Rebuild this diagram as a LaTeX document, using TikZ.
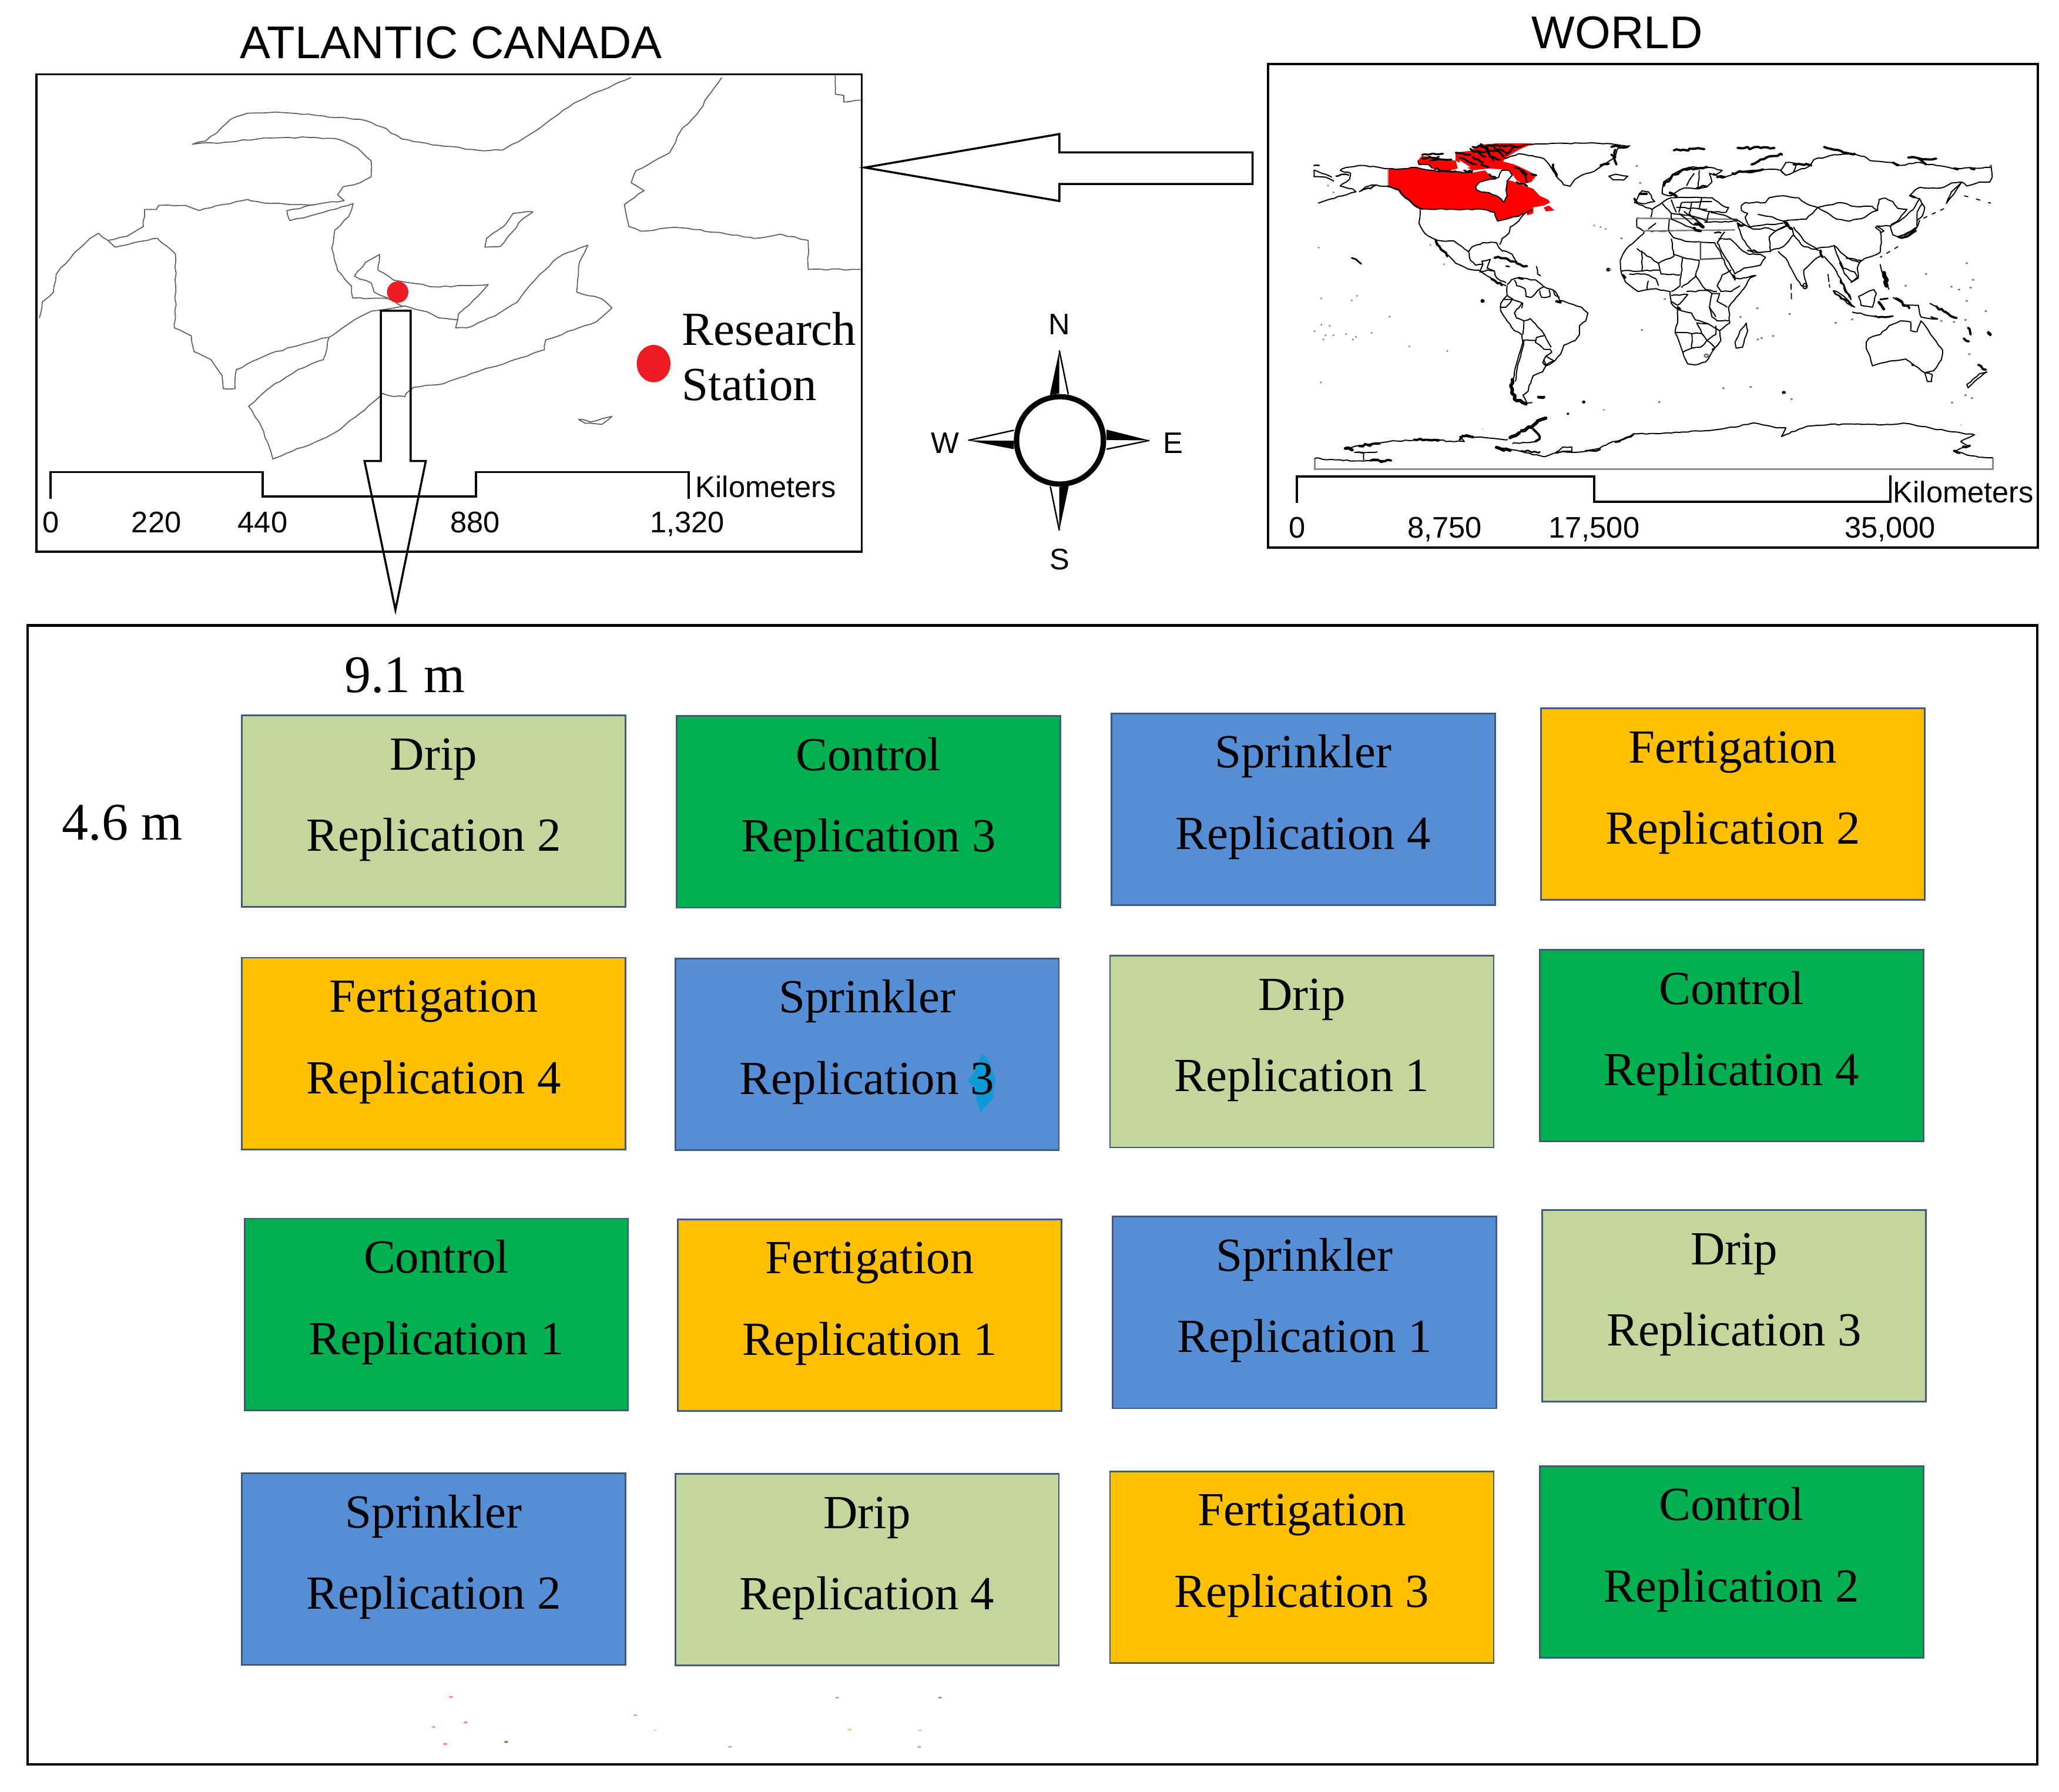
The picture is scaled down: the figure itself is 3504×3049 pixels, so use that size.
\documentclass[tikz,border=0pt]{standalone}
\usepackage{fontspec}
\usetikzlibrary{decorations.pathmorphing}
\setmainfont{Liberation Serif}
\newfontfamily\arl{Liberation Sans}
\definecolor{dripc}{HTML}{C4D69B}
\definecolor{ctrlc}{HTML}{00B050}
\definecolor{sprc}{HTML}{558ED5}
\definecolor{fertc}{HTML}{FFC000}
\definecolor{edgec}{HTML}{3F5C7E}
\definecolor{redmap}{HTML}{FF0000}
\definecolor{reddot}{HTML}{ED1C24}
\definecolor{smudge}{HTML}{0E9AD6}
\newcommand{\twolines}[2]{\begin{tabular}{@{}c@{}}#1\\#2\\[16.4pt]\end{tabular}}
\tikzset{
  plotbox/.style={draw=edgec,line width=.8pt,minimum width=6.525cm,minimum height=3.26cm,inner sep=-6pt,text=black,font=\fontsize{23}{39.4}\selectfont},
  sertext/.style={inner sep=0pt,font=\fontsize{23}{27}\selectfont},
  dimtext/.style={inner sep=0pt,font=\fontsize{25.6}{30}\selectfont,anchor=base},
  santext/.style={inner sep=0pt,font=\arl\fontsize{14.4}{16}\selectfont,anchor=base},
  titletext/.style={inner sep=0pt,font=\arl\fontsize{22.2}{26}\selectfont,anchor=base},
  frameline/.style={draw=black,line width=1.1pt},
  scalebar/.style={draw=black,line width=1.1pt,line join=miter},
  bigarrow/.style={draw=black,line width=1pt,line join=miter},
  coast/.style={draw=black!62,line width=.5pt,line join=round,decorate,decoration={random steps,segment length=3pt,amplitude=.35pt}},
  wl/.style={draw=black,line width=.55pt,line join=round,decorate,decoration={random steps,segment length=2pt,amplitude=.3pt}},
  wt/.style={draw=black,line width=1.1pt,line join=round,line cap=round,decorate,decoration={random steps,segment length=1.6pt,amplitude=.7pt}},
}
\newcommand{\specks}[2]{\foreach \px/\py in {#2} \fill[black!50] (\px,\py) circle [radius=#1];}
\begin{document}
\begin{tikzpicture}[x=0.01cm,y=-0.01cm]
\pgfmathsetseed{7}
\useasboundingbox[fill=white] (0,0) rectangle (3504,3049);

% ---------- Atlantic Canada map
\begin{scope}[shift={(0,0)},x=0.009566cm,y=-0.00676cm]
\node[titletext] (atitle) at (802,147) {ATLANTIC CANADA};
\draw[frameline] (65,187) rectangle (1532,1388);
\draw[coast] plot coordinates {(1122,195) (1060,232) (1020,260) (980,300) (940,340) (893,378) (850,378) (790,368) (715,350) (680,320) (640,300) (560,290) (500,283) (440,285) (410,300) (385,335) (365,355) (342,363) (400,358) (470,347) (550,346) (600,350) (635,372) (660,405) (660,445) (640,460) (610,470) (600,490) (612,505) (560,515) (480,512) (440,502) (395,515) (355,530) (330,517) (282,517) (278,527) (257,527) (255,570) (225,595) (192,605) (175,587) (160,600) (130,640) (100,690) (95,735) (75,760) (70,800)};
\draw[coast] plot coordinates {(192,605) (205,622) (240,610) (280,600) (312,640) (312,800) (310,825) (340,845) (345,885) (375,905) (395,945) (397,978) (418,978) (420,930) (480,890) (540,865) (590,845) (630,805) (665,782) (700,775) (720,770) (760,785) (780,800) (815,805)};
\draw[coast] plot coordinates {(628,512) (560,540) (515,555) (510,530) (560,515)};
\draw[coast] plot coordinates {(628,512) (620,545) (595,580) (590,625) (600,680) (625,720) (627,750) (690,752) (715,770)};
\draw[coast] plot coordinates {(675,640) (650,660) (630,695) (660,712) (665,735) (690,750)};
\draw[coast] plot coordinates {(675,640) (672,680) (700,705) (730,712) (770,722) (868,716) (850,745) (815,790) (810,825) (830,825) (880,795) (920,760) (935,730) (960,690) (990,650) (1010,635) (1045,617) (1030,660) (1025,735) (1070,752) (1088,775) (1060,810) (1020,830) (970,855) (968,880) (905,910) (850,935) (790,965) (735,975) (722,990) (720,998) (700,998) (680,990) (640,1040) (600,1085) (550,1120) (510,1140) (485,1155) (480,1130) (465,1075) (442,1022) (480,975) (530,930) (575,905) (585,850)};
\draw[coast] plot coordinates {(948,533) (912,537) (895,570) (865,600) (862,622) (890,620) (910,585) (930,550) (948,533)};
\draw[coast] plot coordinates {(1283,195) (1260,240) (1245,275) (1210,330) (1190,385) (1130,430) (1122,460) (1145,480) (1110,515) (1118,570) (1140,582) (1200,572) (1280,585) (1340,600) (1390,590) (1437,605) (1437,678) (1530,678)};
\draw[coast] plot coordinates {(1485,190) (1485,237) (1500,240) (1500,257) (1530,252)};
\draw[coast] plot coordinates {(1028,1055) (1050,1062) (1088,1048) (1070,1068) (1040,1065) (1028,1055)};
\fill[reddot] (707,735) ellipse [x radius=19,y radius=27];
\fill[reddot] (1162,915) ellipse [x radius=30,y radius=47];
\node[sertext,anchor=base west] (research) at (1212,868) {Research};
\node[sertext,anchor=base west] (station) at (1212,1008) {Station};
\draw[scalebar] (90,1255) -- (90,1188) -- (467,1188) -- (467,1250) -- (846,1250) -- (846,1188) -- (1224,1188) -- (1224,1255);
\node[santext,anchor=base west] (akm) at (1236,1252) {Kilometers};
\node[santext] (a0) at (90,1340) {0};
\node[santext] (a220) at (278,1340) {220};
\node[santext] (a440) at (467,1340) {440};
\node[santext] (a880) at (845,1340) {880};
\node[santext] (a1320) at (1222,1340) {1,320};
\draw[bigarrow] (677,782) -- (730,782) -- (730,1160) -- (757,1160) -- (703,1535) -- (648,1160) -- (677,1160) -- cycle;
\end{scope}

% ---------- left-pointing arrow
\begin{scope}[x=0.022347cm,y=-0.022347cm]
\draw[bigarrow] (658,127.5) -- (806,102) -- (806,116) -- (953,116) -- (953,140) -- (806,140) -- (806,153) -- cycle;
\end{scope}

% ---------- World frame and scale
\begin{scope}[shift={(2130,0)},x=0.008763cm,y=-0.006122cm]
\node[titletext] (wtitle) at (710,135) {WORLD};
\draw[frameline] (32,178) rectangle (1527,1522);
\draw[scalebar] (88,1398) -- (88,1325) -- (665,1325) -- (665,1395) -- (1240,1395) -- (1240,1322);
\node[santext,anchor=base west] (wkm) at (1245,1398) {Kilometers};
\node[santext] (w0) at (88,1495) {0};
\node[santext] (w8) at (375,1495) {8,750};
\node[santext] (w17) at (665,1495) {17,500};
\node[santext] (w35) at (1240,1495) {35,000};
\end{scope}

% ---------- World: Americas
\begin{scope}[shift={(2220,230)},x=0.003571cm,y=-0.003333cm]
\fill[redmap] plot coordinates {(397,172) (470,172) (530,165) (620,182) (700,188) (800,192) (860,180) (890,215) (935,225) (990,235) (1040,255) (1090,275) (1120,310) (1160,330) (1170,345) (1140,360) (1085,370) (1050,400) (1020,415) (975,425) (920,440) (905,395) (850,380) (560,378) (540,370) (510,345) (480,320) (450,280) (397,262)} -- cycle;
\fill[redmap] plot coordinates {(540,130) (560,105) (640,120) (720,130) (730,170) (680,185) (610,170) (590,150) (545,150)} -- cycle;
\fill[redmap] plot coordinates {(720,90) (790,80) (830,50) (920,42) (1090,42) (1020,75) (960,115) (945,135) (1000,150) (1060,180) (1105,205) (1080,240) (1040,250) (1010,230) (990,200) (940,175) (880,170) (800,180) (750,150) (720,130)} -- cycle;
\fill[redmap] plot coordinates {(1140,370) (1165,360) (1190,385) (1150,390)} -- cycle;
\fill[redmap] plot coordinates {(1060,375) (1090,370) (1090,400) (1060,410)} -- cycle;
\filldraw[fill=white,wl] plot coordinates {(815,265) (835,240) (875,228) (905,225) (925,215) (940,180) (975,180) (990,205) (965,235) (960,280) (965,310) (950,345) (935,325) (915,310) (880,295) (840,290) (820,280)} -- cycle;
\fill[white] plot coordinates {(740,130) (770,150) (790,165) (760,165) (735,150)} -- cycle;
\fill[white] plot coordinates {(1090,380) (1130,365) (1110,390)} -- cycle;
\draw[wl] plot coordinates {(397,172) (470,172) (530,165) (620,182) (700,188) (800,192)};
\draw[wl] plot coordinates {(560,378) (850,380) (905,395) (920,440) (975,425) (1020,415) (1050,400)};
\draw[black!30,line width=.4pt] (397,172) -- (397,262);
\draw[wl,line width=.8pt] plot coordinates {(397,262) (450,280) (480,320) (510,345) (540,370) (560,378)};
\foreach \a/\b/\c/\d in {560/100/660/95,600/130/700/125,720/90/790/100,740/115/820/150,800/60/960/55,820/80/930/85,860/60/900/130,900/50/950/110,950/60/1040/55,800/110/850/140,880/110/930/125,620/175/720/185,760/180/800/185,880/200/910/215,1000/165/1060/200,1080/200/1105/205,1010/240/1060/260,840/45/880/100,930/70/960/90,790/70/860/110,1000/60/960/100,840/150/880/165,1040/180/1060/240,560/120/640/110}
  \draw[wt,line width=.9pt] (\a,\b) -- (\c,\d);
\draw[wl] plot coordinates {(540,130) (545,150) (590,150) (610,170)};
% Greenland
\draw[wl] plot coordinates {(1040,50) (1100,45) (1250,42) (1400,42) (1550,55) (1490,70) (1480,110) (1420,155) (1380,185) (1320,205) (1290,225) (1265,262) (1235,255) (1195,200) (1165,150) (1140,120) (1085,105) (1020,95) (950,120)};
\draw[wt] (1480,75) -- (1480,115);
\draw[wt] (1410,155) -- (1450,145);
\draw[wt] (1185,150) -- (1200,210);
\filldraw[fill=white,wl] plot coordinates {(1450,210) (1480,200) (1540,210) (1520,230) (1470,228)} -- cycle;
% Alaska
\draw[wl] plot coordinates {(397,172) (330,160) (260,155) (200,165) (170,180) (220,195) (215,225) (170,260) (230,275) (245,290) (200,305) (130,325) (65,348)};
\draw[wl] plot coordinates {(397,262) (320,255) (290,265) (260,290)};
\draw[wl] plot coordinates {(45,178) (45,212) (100,215) (140,235)};
\draw[wl] plot coordinates {(45,178) (100,200) (130,215)};
\draw[wt,line width=.7pt] (45,155) -- (70,155);
\draw[wt,line width=.7pt] (150,210) -- (210,205);
\draw[wt,line width=.7pt] (270,285) -- (340,255);
% USA and Mexico
\draw[wl] plot coordinates {(550,380) (545,450) (575,505) (615,530) (650,540) (710,540) (750,570) (780,595)};
\draw[wl] plot coordinates {(780,600) (800,570) (850,550) (915,550) (930,580) (945,595)};
\draw[wl] plot coordinates {(930,560) (940,530) (975,500) (980,470) (1020,440) (1050,400) (1085,380)};
\draw[wl] plot coordinates {(620,530) (650,580) (690,620) (720,655) (780,685) (830,690) (870,720) (905,745) (960,770)};
\draw[wl] plot coordinates {(785,600) (790,640) (815,665) (850,660) (845,645) (885,635) (870,680) (905,695) (915,730) (960,755)};
\draw[wl] plot coordinates {(850,660) (835,700) (870,690) (905,695)};
\draw[wt] (625,540) -- (650,585) -- (680,620);
\draw[wl] (945,590) -- (990,610) -- (1005,640);
\draw[wt] (905,628) -- (960,630) -- (1010,655) -- (1060,670);
\draw[wt,line width=.7pt] (960,670) -- (975,672);
\draw[wl] (1105,670) -- (1110,710) -- (1125,720);
\draw[wt] (890,735) -- (940,768);
% South America
\draw[wl] plot coordinates {(965,765) (985,740) (1020,730) (1100,740) (1140,775) (1195,800) (1215,845) (1260,860) (1320,880) (1350,910) (1340,950) (1310,975) (1310,1020) (1290,1050) (1235,1075) (1220,1120) (1185,1160) (1150,1180) (1135,1210) (1090,1230) (1070,1280) (1065,1310) (1040,1330) (1060,1370) (1085,1368)};
\draw[wl] plot coordinates {(965,770) (965,820) (935,860) (935,900) (965,950) (1000,1000) (1035,1020) (1040,1060) (1020,1130) (1000,1210) (990,1280)};
\draw[wl] plot coordinates {(1045,1050) (1030,1130) (1012,1200) (1005,1260)};
\draw[wl] plot coordinates {(1000,740) (1010,770) (1050,785) (1055,825) (1080,830) (1110,795) (1140,775)};
\draw[wl] plot coordinates {(1120,795) (1130,830) (1170,825) (1165,790)};
\draw[wl] plot coordinates {(1185,790) (1195,820) (1215,830)};
\draw[wl] plot coordinates {(965,820) (1000,845) (1040,860) (1035,885)};
\draw[wl] plot coordinates {(945,840) (990,840) (960,880) (935,880)};
\draw[wl] plot coordinates {(1035,860) (1000,910) (1010,935) (1045,950) (1075,938) (1100,965) (1130,1000) (1145,1025) (1105,1035) (1100,1060) (1140,1095) (1170,1095) (1178,1110) (1150,1130) (1135,1165) (1150,1180)};
\draw[wl] plot coordinates {(1045,950) (1040,1020)};
\draw[wl] plot coordinates {(1040,1050) (1100,1050)};
\draw[wl] plot coordinates {(1145,1025) (1175,1085)};
\draw[wl] plot coordinates {(1150,1130) (1190,1155) (1150,1175) (1140,1150)};
\draw[wt,line width=1.6pt] plot coordinates {(990,1250) (987,1320) (1010,1358) (1055,1375)};
\draw[wt,line width=1.4pt] (1115,1340) -- (1140,1340);
\draw[wt,line width=1.2pt] (1200,850) -- (1220,855);
\draw[wt] (1020,730) -- (1040,735);
\draw[wt,line width=.8pt] (225,628) -- (245,635) -- (270,658);
\fill (848,848) circle [radius=10];
\fill (1447,688) circle [radius=10];
\fill (1330,1365) circle [radius=8];
\fill (1255,1425) circle [radius=6];
\specks{5}{600/562,68/575,665/660,80/835,250/822,225/845,405/928,120/975,80/970,48/1003,100/1023,138/1023,198/1018,320/1012,230/1045,245/1032,90/1045,500/1080,680/1104,78/1265,1380/462,1410/470,1435/480,1510/528,1425/1405,112/258,138/293}
\end{scope}

% ---------- World: Old World
\begin{scope}[shift={(2740,230)},x=0.004337cm,y=-0.003333cm]
% Africa
\draw[wl] plot coordinates {(130,505) (100,540) (65,580) (40,640) (45,710) (60,750) (110,800) (180,785) (235,800) (240,860) (265,890) (265,960) (255,1010) (285,1110) (305,1170) (330,1175) (375,1160) (410,1090) (435,1050) (430,1000) (470,960) (465,880) (525,785) (550,730) (572,718) (510,735) (485,730) (460,680) (430,590) (410,550) (350,545) (310,545) (250,525) (230,490) (135,490) (130,505)};
\foreach \p in {{(105,580) (190,655) (250,620) (240,530)},{(125,590) (125,695) (45,695)},{(250,610) (285,625) (350,640)},{(285,625) (280,700) (275,770) (240,800)},{(350,640) (335,720) (375,790) (420,800)},{(190,655) (200,710) (275,715)},{(125,695) (195,690)},{(75,710) (135,710) (180,735) (190,770)},{(150,745) (145,790)},{(340,720) (280,780)},{(300,800) (385,795) (400,810) (390,880) (415,930)},{(440,715) (420,770) (435,800) (475,800) (510,770)},{(440,715) (475,690)},{(400,810) (430,810) (420,850) (460,880)},{(390,880) (400,930) (420,950) (465,950)},{(265,890) (300,905) (320,910) (335,945) (385,965)},{(255,1010) (360,1015) (340,960) (385,965) (410,985) (430,1000)},{(360,1015) (380,1050) (415,1020) (415,975)},{(320,1015) (320,1090) (355,1085) (380,1050) (410,1085) (410,1090)},{(285,1110) (320,1090)},{(240,820) (305,815) (265,870) (240,850)}}
  \draw[wl] plot coordinates {\p};
\draw[black!70,line width=.7pt] (355,545) -- (355,635) -- (440,630);
\draw[wl] plot coordinates {(535,960) (510,1000) (490,1060) (495,1090) (520,1085) (540,1000) (535,960)};
\draw[black!60,line width=.6pt] (378,1128) circle [radius=8];
\fill (405,1095) circle [radius=6];
\draw[wt] (50,715) -- (60,730);
\draw[wt] (265,880) -- (275,890);
\draw[wt,line width=.8pt] (480,715) -- (490,740);
% Europe
\draw[black!50,line width=.7pt] (105,425) -- (500,430);
\draw[black!50,line width=.7pt] (130,490) -- (490,485);
\draw[wl] (105,425) -- (105,470) -- (130,490);
\draw[wl] plot coordinates {(205,280) (210,240) (260,190) (310,165) (390,165) (440,180) (410,205) (390,195) (400,240) (380,265) (340,275) (290,270) (240,310) (205,300) (205,280)};
\draw[wt] (210,260) -- (240,215) -- (290,175) -- (380,162);
\draw[wl] (330,195) -- (300,260);
\draw[wl] (350,180) -- (345,270);
\draw[wl] plot coordinates {(95,345) (125,285) (150,290) (175,340) (140,350) (95,345)};
\draw[wt] (115,300) -- (145,300);
\draw[wt] (95,325) -- (105,345);
\draw[wl] plot coordinates {(160,420) (165,380) (210,340) (240,320) (400,320) (440,360) (465,370) (455,395) (390,390) (380,440) (340,420) (240,400) (205,350)};
\draw[wl] plot coordinates {(280,345) (400,340)};
\draw[wl] plot coordinates {(260,370) (380,380)};
\draw[wl] plot coordinates {(240,400) (240,430) (330,480)};
\draw[wl] plot coordinates {(270,400) (330,460)};
\draw[wl] plot coordinates {(290,390) (350,450)};
\draw[wl] plot coordinates {(310,400) (370,470)};
\draw[wl] plot coordinates {(240,330) (260,395)};
\draw[wl] plot coordinates {(280,345) (270,395)};
\draw[wl] plot coordinates {(320,345) (310,400)};
\draw[wl] plot coordinates {(360,320) (350,375) (390,390)};
\draw[wl] plot coordinates {(100,345) (140,370) (165,380)};
\draw[wt,line width=1.5pt] (335,455) -- (365,470);
\draw[wt,line width=1.3pt] (330,475) -- (355,490);
\draw[wt,line width=1.3pt] (235,295) -- (260,312);
\draw[wt,line width=.8pt] (340,270) -- (380,262);
\draw[wl] plot coordinates {(395,395) (430,405) (500,435) (530,460) (560,480) (620,475) (650,490) (700,460)};
\draw[wt,line width=.8pt] (500,450) -- (530,460);
\draw[wl] plot coordinates {(230,490) (232,430)};
\draw[wl] plot coordinates {(180,450) (150,480)};
\draw[wl] plot coordinates {(370,445) (500,440)};
\draw[wt,line width=.7pt] (410,500) -- (435,500);
% Russia
\draw[wl] plot coordinates {(405,195) (440,220) (490,195) (560,180) (620,175) (670,180) (690,205) (720,190) (780,160) (800,125) (880,100) (950,95) (1000,110) (1020,130) (1120,145) (1140,155) (1200,140) (1280,155) (1360,170) (1490,165) (1495,155) (1500,215) (1490,240) (1450,240) (1400,260) (1380,240) (1340,245) (1300,270) (1210,270) (1175,310) (1215,325) (1235,370) (1225,415) (1205,435) (1205,470) (1165,500) (1130,520)};
\draw[wl] plot coordinates {(1380,240) (1340,290) (1320,350) (1380,240)};
\draw[wl] plot coordinates {(690,205) (670,180) (690,140) (730,145) (720,190)};
\foreach \a/\b/\c/\d in {250/78/370/72,500/65/645/65,555/150/590/125,590/125/675/100,840/60/890/75,890/75/960/95,1170/115/1280/120,720/150/790/155,5/60/70/60,5/100/25/150,420/215/450/215,1110/140/1130/155,1210/120/1240/150,480/195/600/175,1350/170/1365/175,1415/170/1430/175}
  \draw[wt] (\a,\b) -- (\c,\d);
\draw[wt] (1180,310) -- (1195,318);
\draw[wl] plot coordinates {(1215,325) (1190,380) (1135,440) (1100,465) (1110,510) (1130,520) (1160,510) (1200,480) (1215,435)};
\draw[wt] (1130,520) -- (1145,525) -- (1200,490);
\draw[wl] (1225,350) -- (1205,395) -- (1205,440);
% central Asia
\draw[wl] plot coordinates {(515,360) (530,345) (610,345) (625,320) (680,310) (740,320) (770,350) (815,370) (850,395) (890,430) (940,440) (1000,420) (1035,390) (1050,385) (1030,365) (960,365) (905,345) (875,355) (815,370)};
\draw[wl] plot coordinates {(1050,385) (1055,330) (1080,322) (1110,340) (1130,375) (1165,380) (1135,430) (1100,465)};
\draw[wl] plot coordinates {(1100,465) (1045,465) (1075,490) (1060,500)};
\draw[wl] plot coordinates {(1040,470) (1060,490) (1065,550) (1060,600) (1000,630) (975,650)};
\draw[wl] plot coordinates {(720,470) (760,540) (810,580) (880,565) (905,600) (935,630) (975,650)};
\draw[wl] plot coordinates {(815,370) (770,430) (750,430) (680,440) (700,470)};
\draw[wl] plot coordinates {(515,360) (515,385) (540,400) (530,420) (550,470) (600,460)};
\draw[wl] plot coordinates {(580,405) (640,420) (680,440)};
\draw[wl] plot coordinates {(600,460) (680,450)};
\draw[wl] plot coordinates {(500,450) (520,530) (560,600) (590,600) (630,595) (625,520) (650,490) (700,460)};
\draw[wl] plot coordinates {(630,590) (680,570) (720,510) (710,470)};
\draw[wl] plot coordinates {(425,530) (470,530) (510,580) (545,610) (590,610) (610,625) (590,665) (525,680) (490,710) (440,600) (420,550)};
\draw[wl] plot coordinates {(450,495) (420,550)};
\draw[wl] plot coordinates {(660,595) (690,630) (710,680) (750,770) (770,775) (760,690) (800,640) (825,620) (830,590)};
\draw[wl] plot coordinates {(720,510) (760,570) (820,590)};
\draw[black,line width=.55pt] (765,772) ellipse [x radius=9,y radius=14];
\draw[wt] (685,445) -- (715,480);
\draw[wt] (825,590) -- (835,625);
\draw[wt,line width=.7pt] (540,590) -- (590,600);
\draw[wt,line width=.8pt] (500,450) -- (520,465);
% SE Asia
\draw[wl] plot coordinates {(840,620) (880,680) (905,735) (940,830)};
\draw[wl] plot coordinates {(880,570) (900,640) (915,680) (960,700) (975,730) (950,750) (920,710) (900,650)};
\draw[wl] plot coordinates {(925,630) (985,640) (970,680) (975,720) (945,755)};
\draw[wl] plot coordinates {(875,795) (930,860) (960,880) (930,840) (890,800) (875,795)};
\draw[wt,line width=.8pt] (905,740) -- (945,840);
\draw[wt,line width=.8pt] (880,800) -- (950,875);
\draw[wl] plot coordinates {(950,905) (1050,930) (1110,925)};
\draw[wt,line width=.8pt] (1040,925) -- (1110,925);
\draw[wl] plot coordinates {(975,825) (1035,790) (1045,810) (1030,880) (985,870) (975,825)};
\draw[wt,line width=2pt] (1075,705) -- (1085,770);
\draw[wl] (1060,660) -- (1065,690) -- (1095,790);
\draw[wt,line width=1.3pt] (1055,855) -- (1075,890);
\draw[wt,line width=.8pt] (1060,840) -- (1090,835);
\draw[wl] plot coordinates {(1110,830) (1160,870) (1210,870) (1220,930) (1280,940)};
\draw[wt] (1120,835) -- (1175,885);
\draw[wt] (1280,875) -- (1360,935);
\draw[wl] (1255,860) -- (1280,875);
\draw[wt,line width=.8pt] (1260,930) -- (1285,940);
% dotted chains
\draw[black,line width=.5pt,dash pattern=on 3pt off 1.5pt] (710,760) -- (712,848);
\draw[black,line width=.5pt,dash pattern=on 4pt off 1pt] (855,710) -- (862,780);
\draw[black,line width=.5pt,dash pattern=on 2pt off 2.5pt] (1130,570) -- (1085,605) -- (1060,625);
\draw[black,line width=.5pt,dash pattern=on 2pt off 2.5pt] (1230,425) -- (1320,370);
\draw[black,line width=.5pt,dash pattern=on 2pt off 4pt] (1390,310) -- (1495,348);
% Australia
\draw[wl] plot coordinates {(1005,1060) (1015,1040) (1060,1020) (1095,975) (1140,950) (1180,955) (1180,1000) (1205,1005) (1220,950) (1250,1000) (1280,1055) (1305,1100) (1300,1150) (1270,1205) (1235,1215) (1190,1175) (1160,1145) (1100,1155) (1030,1180) (1020,1130) (1005,1090) (1005,1060)};
\draw[wl] plot coordinates {(1235,1215) (1265,1225) (1262,1260) (1245,1260) (1235,1215)};
\fill (1188,1175) circle [radius=6];
% NZ and Pacific
\draw[wl] plot coordinates {(1480,1210) (1430,1260) (1405,1292) (1400,1275) (1450,1220) (1480,1210)};
\draw[wt] (1445,1175) -- (1475,1200);
\draw[wt] (1405,985) -- (1415,1020);
\draw[wt] (1388,1040) -- (1408,1055);
\draw[wt,line width=1.5pt] (1485,1010) -- (1492,1020);
\fill (682,1316) circle [radius=8];
\specks{5}{105/158,118/244,45/528,0/688,215/838,578/885,705/915,512/930,125/996,580/1045,595/1038,640/1027,445/1294,552/1288,193/1365,712/1350,885/960,950/942,1400/655,1240/710,1160/770,1340/775,1370/790,1415/780,1425/740,1400/848,1475/900,1395/945,1410/1120,1395/1330,1420/1345,1342/1368,1495/155,1300/950,1350/955}
\end{scope}

% ---------- World: Antarctica
\begin{scope}[shift={(2200,680)},x=0.007781cm,y=-0.003333cm]
\draw[black!45,line width=.9pt] (48,300) -- (48,355) -- (1530,355) -- (1530,298);
\draw[wl] plot coordinates {(48,300) (110,312) (160,312) (215,312)};
\draw[wt] (170,312) -- (215,312);
\draw[wl] (155,310) -- (155,275) -- (135,270) -- (185,268);
\draw[wl] plot coordinates {(120,255) (145,235) (190,222) (210,215) (270,205) (330,208) (335,215) (375,215) (365,190) (420,195) (470,205)};
\draw[wt] (145,238) -- (190,225);
\draw[wt] (265,205) -- (320,208);
\draw[wt] (365,205) -- (375,188) -- (395,192);
\draw[wt,line width=1.5pt] (115,250) -- (130,258);
\draw[wt,line width=1.6pt] (475,195) -- (495,170);
\draw[wt,line width=1.6pt] (500,160) -- (553,95);
\draw[wt] plot coordinates {(525,150) (540,190) (530,215)};
\draw[wl] plot coordinates {(530,215) (480,225)};
\draw[wt,line width=1.5pt] (445,245) -- (475,260);
\draw[wl] plot coordinates {(445,245) (490,260) (550,293) (570,275) (590,265) (610,270) (640,265) (670,250) (690,225) (720,205) (745,175) (800,175) (900,160) (940,150) (1010,120) (1060,145) (1078,145) (1068,190) (1090,165) (1130,135) (1210,125) (1280,130) (1340,122) (1400,150) (1490,180) (1460,215) (1478,240) (1445,262) (1475,285) (1500,295) (1530,298)};
\draw[wt,line width=.8pt] (705,218) -- (745,178);
\draw[wl] (575,270) -- (590,243) -- (610,243) -- (610,265) -- cycle;
\draw[wt,line width=.8pt] (640,262) -- (672,255);
\draw[wt,line width=.8pt] (500,262) -- (540,268);
\draw[wt] (1445,262) -- (1458,272);
\draw[wt] (1465,240) -- (1480,236);
\specks{2}{415/150,1460/130}
\end{scope}

% ---------- Compass
\begin{scope}[shift={(1500,480)},x=0.003827cm,y=-0.003333cm]
\fill[even odd rule] (793,810) ellipse [x radius=205,y radius=237] (793,810) ellipse [x radius=181,y radius=210];
\fill (790,350) -- (748,578) -- (790,570) -- cycle;
\draw[line width=.7pt,line join=miter] (790,350) -- (830,575);
\fill (1190,810) -- (1000,755) -- (1000,808) -- cycle;
\draw[line width=.7pt,line join=miter] (1190,810) -- (1000,855);
\fill (790,1270) -- (832,1042) -- (790,1048) -- cycle;
\draw[line width=.7pt,line join=miter] (790,1270) -- (750,1045);
\fill (385,810) -- (588,855) -- (588,812) -- cycle;
\draw[line width=.7pt,line join=miter] (385,810) -- (588,758);
\node[santext] (cn) at (790,270) {N};
\node[santext] (cs) at (792,1472) {S};
\node[santext] (cw) at (283,875) {W};
\node[santext] (ce) at (1295,875) {E};
\end{scope}

% ---------- Field plot
\begin{scope}[x=0.022347cm,y=-0.022347cm]
\draw[draw=black,line width=1.3pt] (21,476) rectangle (1550,1342.5);
\node[dimtext] (dimw) at (308,527) {9.1 m};
\node[dimtext] (dimh) at (93,639) {4.6 m};
\node[plotbox,fill=dripc] (b11) at (330,617.3) {\twolines{Drip}{Replication 2}};
\node[plotbox,fill=ctrlc] (b12) at (660.7,617.8) {\twolines{Control}{Replication 3}};
\node[plotbox,fill=sprc] (b13) at (991.5,615.8) {\twolines{Sprinkler}{Replication 4}};
\node[plotbox,fill=fertc] (b14) at (1318.4,611.8) {\twolines{Fertigation}{Replication 2}};
\node[plotbox,fill=fertc] (b21) at (330,801.7) {\twolines{Fertigation}{Replication 4}};
\node[plotbox,fill=sprc] (b22) at (659.7,802.2) {};
\node[plotbox,fill=dripc] (b23) at (990.5,800.2) {\twolines{Drip}{Replication 1}};
\node[plotbox,fill=ctrlc] (b24) at (1317.4,795.7) {\twolines{Control}{Replication 4}};
\node[plotbox,fill=ctrlc] (b31) at (332,1000.2) {\twolines{Control}{Replication 1}};
\node[plotbox,fill=fertc] (b32) at (661.7,1000.7) {\twolines{Fertigation}{Replication 1}};
\node[plotbox,fill=sprc] (b33) at (992.5,998.7) {\twolines{Sprinkler}{Replication 1}};
\node[plotbox,fill=dripc] (b34) at (1319.4,993.7) {\twolines{Drip}{Replication 3}};
\node[plotbox,fill=sprc] (b41) at (330,1194) {\twolines{Sprinkler}{Replication 2}};
\node[plotbox,fill=dripc] (b42) at (659.7,1194.5) {\twolines{Drip}{Replication 4}};
\node[plotbox,fill=fertc] (b43) at (990.5,1192.5) {\twolines{Fertigation}{Replication 3}};
\node[plotbox,fill=ctrlc] (b44) at (1317.4,1188.5) {\twolines{Control}{Replication 2}};
\end{scope}
\begin{scope}[shift={(1150,1630)},x=0.004464cm,y=-0.003333cm]
\fill[smudge] plot coordinates {(1170,490) (1195,540) (1215,620) (1205,720) (1160,790) (1145,730) (1135,660) (1108,630) (1130,600) (1148,540)} -- cycle;
\end{scope}
\node[plotbox,draw=none,fill=none] (b22t) at (b22.center) {\twolines{Sprinkler}{Replication 3}};

% ---------- stray specks in the plot frame
\begin{scope}[shift={(650,2850)},x=0.007015cm,y=-0.003333cm]
\foreach \px/\py/\pc in {167/115/red!50,203/245/red!50,125/268/red!40,153/355/red!55,301/345/brown!80!black,614/208/blue!30,662/285/brown!30,843/370/black!30,1302/370/black!30,1352/118/black!40,1103/118/black!30,1133/282/orange!50,1304/285/blue!20}
  \fill[\pc] (\px,\py) circle [radius=5];
\end{scope}
\end{tikzpicture}
\end{document}
